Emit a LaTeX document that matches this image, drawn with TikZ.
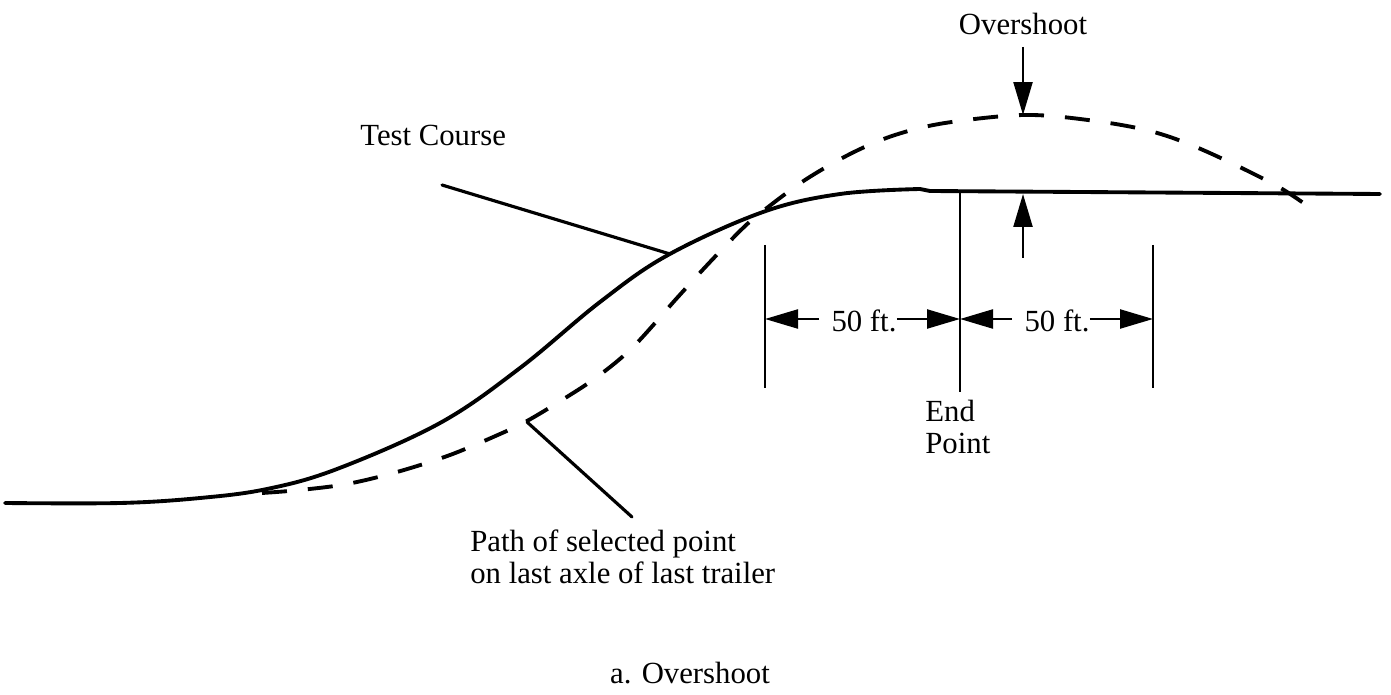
\documentclass[tikz,border=0pt]{standalone}
\usepackage{fontspec}
\setmainfont{Liberation Serif}
\usetikzlibrary{arrows.meta}
\begin{document}
\begin{tikzpicture}[x=0.02cm,y=-0.02cm,
  lbl/.style={inner sep=0pt, font=\fontsize{17.5}{17.7}\selectfont},
  course/.style={line width=2.2pt, line join=round, line cap=round},
  pathline/.style={line width=2.2pt, dash pattern=on 0.5cm off 0.42cm},
  leader/.style={line width=1.8pt, line cap=round},
  tickline/.style={line width=1.3pt},
  dimarrow/.style={line width=1.3pt, -{Triangle[length=0.66cm,width=0.38cm]}},
]
\useasboundingbox (0,0) rectangle (1391,695);

% test course (solid)
\draw[course] plot[smooth, tension=0.6] coordinates {(5,503) (120,503) (200,498) (267,489) (337,469) (440,423) (520,368) (600,302) (668,255) (763,212) (840,194) (920,189)} -- (930,191) -- (1380,194);

% path of selected point (dashed)
\draw[pathline] plot[smooth, tension=0.55] coordinates {(262,493) (300,490) (347,484) (397,472) (450,455) (500,434) (527,421) (562,400) (597,377) (633,347) (677,298) (710,262) (743,228) (763,211) (805,180) (852,153) (895,135) (945,123) (1023,115) (1088,120) (1150,131) (1203,150) (1277,186) (1317,213)};

% labels
\node[lbl, anchor=base west] (tc) at (360,146) {Test Course};
\node[lbl, anchor=base west, align=left] (pl) at (470,583) {Path of selected point\\on last axle of last trailer};
\node[lbl, anchor=base] (ov) at (1023,35) {Overshoot};
\node[lbl, anchor=base west, align=left] (ep) at (925,453) {End\\Point};
\node[lbl, anchor=base] (d1) at (864,332) {50 ft.};
\node[lbl, anchor=base] (d2) at (1057,332) {50 ft.};
\node[lbl, anchor=base] (cap) at (690,683) {a. Overshoot};

% coordinates
\coordinate (tcA) at (442,185);
\coordinate (tcB) at (670,254);
\coordinate (plA) at (632,517);
\coordinate (plB) at (527,422);
\coordinate (ovA) at (1023,47);
\coordinate (ovPeak) at (1023,115);
\coordinate (ovB) at (1023,258);
\coordinate (ovBase) at (1023,194);
\coordinate (epT) at (960,192);
\coordinate (epB) at (960,392);
\coordinate (ltT) at (765,245);
\coordinate (ltB) at (765,388);
\coordinate (rtT) at (1153,245);
\coordinate (rtB) at (1153,388);
\coordinate (lt) at (765,319);
\coordinate (ept) at (960,319);
\coordinate (rt) at (1153,319);

% leaders
\draw[leader] (tcA) -- (tcB);
\draw[leader] (plA) -- (plB);

% vertical lines
\draw[tickline] (epT) -- (epB);
\draw[tickline] (ltT) -- (ltB);
\draw[tickline] (rtT) -- (rtB);

% overshoot arrows
\draw[dimarrow] (ovA) -- (ovPeak);
\draw[dimarrow] (ovB) -- (ovBase);

% dimension arrows
\draw[dimarrow] ([xshift=-0.24cm]d1.west |- lt) -- (lt);
\draw[dimarrow] (d1.east |- lt) -- (ept);
\draw[dimarrow] ([xshift=-0.24cm]d2.west |- ept) -- (ept);
\draw[dimarrow] (d2.east |- rt) -- (rt);
\end{tikzpicture}
\end{document}
